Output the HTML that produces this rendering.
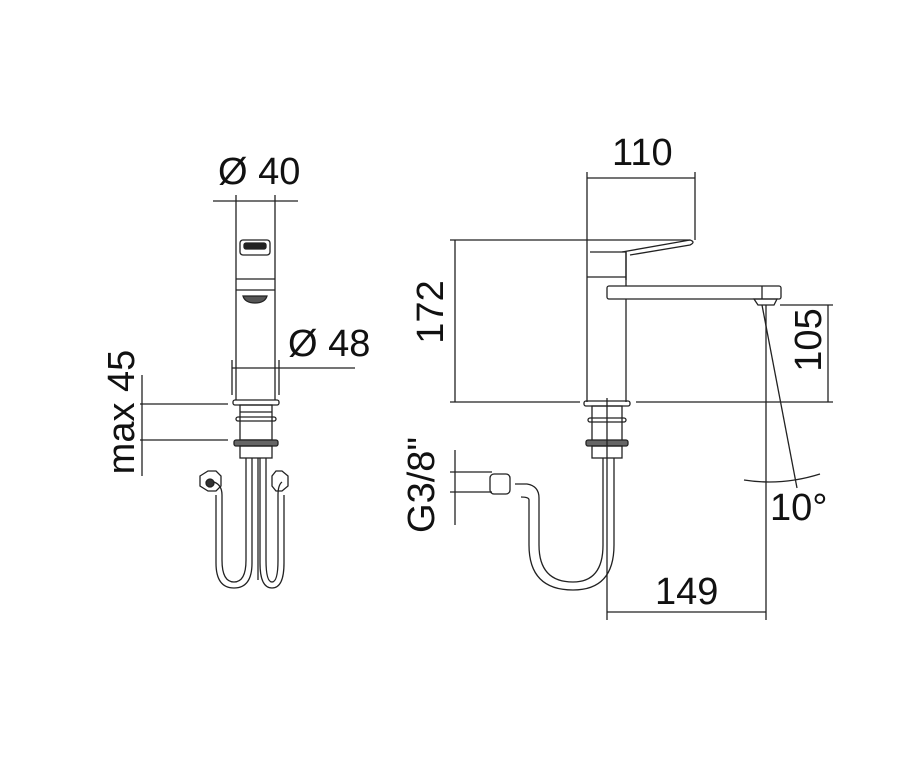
<!DOCTYPE html>
<html><head><meta charset="utf-8"><style>html,body{margin:0;padding:0;background:#fff}svg{display:block}text{font-family:"Liberation Sans",sans-serif;fill:#111}</style></head>
<body>
<svg width="900" height="784" viewBox="0 0 900 784" xmlns="http://www.w3.org/2000/svg">
<g stroke="#222" stroke-width="1.3" fill="none">
<!-- LEFT VIEW -->
<line x1="213" y1="201" x2="298" y2="201"/>
<line x1="236" y1="195" x2="236" y2="400"/>
<line x1="275" y1="195" x2="275" y2="400"/>
<rect x="240" y="240" width="30" height="15" rx="3"/>
<rect x="244" y="243" width="22" height="6" rx="2" fill="#222"/>
<line x1="236" y1="279" x2="275" y2="279"/>
<line x1="236" y1="290" x2="275" y2="290"/>
<path d="M243 296 h24 q-2 7 -12 7 q-10 0 -12 -7z" fill="#555"/>
<line x1="232" y1="368" x2="355" y2="368"/>
<line x1="232" y1="360" x2="232" y2="395"/>
<line x1="279" y1="360" x2="279" y2="395"/>
<rect x="233" y="400" width="46" height="5" rx="2"/>
<rect x="240" y="405" width="32" height="35"/>
<line x1="240" y1="412" x2="272" y2="412"/>
<rect x="236" y="417" width="40" height="4" rx="2"/>
<rect x="234" y="440" width="44" height="6" rx="2" fill="#666"/>
<rect x="240" y="446" width="32" height="12"/>
<line x1="140" y1="404" x2="228" y2="404"/>
<line x1="140" y1="440" x2="228" y2="440"/>
<line x1="142" y1="375" x2="142" y2="476"/>
<!-- hoses left -->
<path d="M246 458 V560 q0 22 -12 22 q-12 0 -12 -22 V495 q0 -10 -8 -13"/>
<path d="M252 458 V563 q0 25 -18 25 q-18 0 -18 -25 V495"/>
<path d="M260 458 V563 q0 25 12 25 q12 0 12 -25 V495"/>
<path d="M266 458 V560 q0 22 6 22 q6 0 6 -22 V495 q0 -10 4 -13"/>
<line x1="258" y1="458" x2="258" y2="580"/>
<path d="M200 476 l8 -5 h8 l5 5 v10 l-5 5 h-8 l-8 -5z"/>
<circle cx="210" cy="483" r="4" fill="#333"/>
<path d="M288 476 l-6 -5 h-6 l-4 5 v10 l4 5 h6 l6 -5z"/>
<!-- RIGHT VIEW -->
<line x1="587" y1="172" x2="587" y2="402"/>
<line x1="626" y1="252" x2="626" y2="286"/>
<line x1="626" y1="299" x2="626" y2="402"/>
<line x1="587" y1="178" x2="695" y2="178"/>
<line x1="695" y1="172" x2="695" y2="240"/>
<line x1="450" y1="240" x2="690" y2="240"/>
<path d="M590 252 H626 V280"/>
<line x1="587" y1="277" x2="626" y2="277"/>
<path d="M622 252 L690 240 q6 2 0 5 L630 255"/>
<rect x="607" y="286" width="174" height="13" rx="2"/>
<line x1="762" y1="286" x2="762" y2="299"/>
<path d="M754 299 h23 l-3 6 h-16z"/>
<line x1="455" y1="240" x2="455" y2="402"/>
<line x1="450" y1="402" x2="580" y2="402"/>
<line x1="636" y1="402" x2="833" y2="402"/>
<line x1="780" y1="305" x2="833" y2="305"/>
<line x1="828" y1="305" x2="828" y2="402"/>
<rect x="584" y="401" width="46" height="5" rx="2"/>
<rect x="592" y="406" width="30" height="38"/>
<rect x="588" y="418" width="38" height="4" rx="2"/>
<rect x="586" y="440" width="42" height="6" rx="2" fill="#666"/>
<rect x="592" y="446" width="30" height="12"/>
<line x1="607" y1="398" x2="607" y2="620"/>
<!-- hose right -->
<path d="M603 458 V545 q0 37 -30 37 q-34 0 -34 -37 V498 q0 -12 -12 -14 H515"/>
<path d="M614 458 V545 q0 45 -41 45 q-44 0 -44 -45 V500 q0 -3 -8 -3"/>
<rect x="490" y="474" width="20" height="20" rx="4"/>
<line x1="450" y1="472" x2="492" y2="472"/>
<line x1="450" y1="492" x2="492" y2="492"/>
<line x1="455" y1="450" x2="455" y2="525"/>
<line x1="766" y1="305" x2="766" y2="620"/>
<line x1="762" y1="305" x2="797" y2="488"/>
<path d="M744 480 q38 6 76 -6"/>
<line x1="607" y1="612" x2="766" y2="612"/>
</g>
<text x="218" y="184" font-size="38">Ø 40</text>
<text x="288" y="356" font-size="38">Ø 48</text>
<text transform="translate(134,412) rotate(-90)" font-size="38" text-anchor="middle">max 45</text>
<text x="612" y="165" font-size="38">110</text>
<text transform="translate(443,312) rotate(-90)" font-size="38" text-anchor="middle">172</text>
<text transform="translate(821,340) rotate(-90)" font-size="38" text-anchor="middle">105</text>
<text transform="translate(434,485) rotate(-90)" font-size="38" text-anchor="middle">G3/8"</text>
<text x="770" y="520" font-size="38">10°</text>
<text x="655" y="604" font-size="38">149</text>
</svg>
</body></html>
